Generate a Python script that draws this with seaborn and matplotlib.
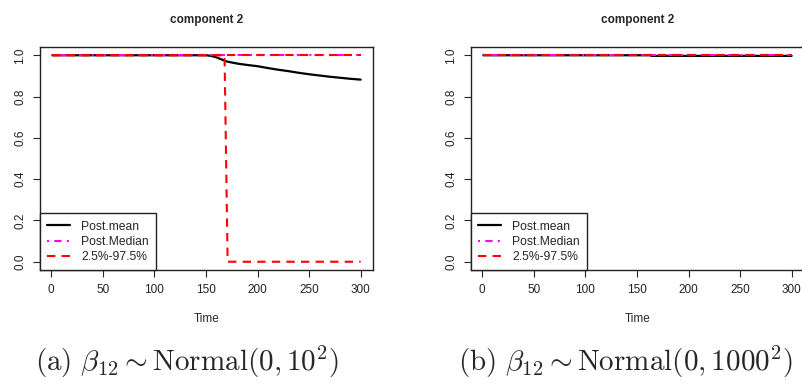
import matplotlib
matplotlib.use("Agg")
import matplotlib.pyplot as plt
import numpy as np
import pandas as pd
import seaborn as sns

sns.set_style("ticks")
plt.rcParams['font.family'] = ['Liberation Sans', 'DejaVu Sans']
plt.rcParams['mathtext.fontset'] = 'cm'

# panel (a): beta12 ~ Normal(0, 10^2)
time_a = [1, 150, 155, 160, 165, 170, 180, 190, 200, 210, 220, 230, 240, 250, 260, 270, 280, 290, 300]
mean_a = [1.0, 1.0, 0.997, 0.99, 0.98, 0.97, 0.96, 0.953, 0.947, 0.938, 0.93, 0.923, 0.915, 0.908, 0.902, 0.896, 0.891, 0.886, 0.882]
time_med_a = [1, 300]
median_a = [1.0, 1.0]
upper_a = [1.0, 1.0]
time_low_a = [1, 168, 171, 300]
lower_a = [1.0, 1.0, 0.0, 0.0]

# panel (b): beta12 ~ Normal(0, 1000^2)
time_b = [1, 163, 164, 300]
mean_b = [1.0, 1.0, 0.997, 0.997]
time_med_b = [1, 300]
median_b = [1.0, 1.0]
upper_b = [1.0, 1.0]
lower_b = [1.0, 1.0]

x_ticks = [0, 50, 100, 150, 200, 250, 300]
y_ticks = [0.0, 0.2, 0.4, 0.6, 0.8, 1.0]
legend_labels = ['Post.mean', 'Post.Median', '2.5%-97.5%']
captions = [r'$\mathrm{(a)}\ \beta_{12} \sim \mathrm{Normal}(0, 10^2)$',
            r'$\mathrm{(b)}\ \beta_{12} \sim \mathrm{Normal}(0, 1000^2)$']

fig = plt.figure(figsize=(8.02, 3.88), dpi=100)
ax_a = fig.add_axes([40 / 802, 1 - 270 / 388, 333 / 802, 223 / 388])
ax_b = fig.add_axes([471 / 802, 1 - 270 / 388, 333 / 802, 223 / 388])

dash = (0, (4, 3))
dashdot = (0, (1, 2.5, 3.5, 2.5))


def draw_panel(ax, t_mean, mean, t_med, med, upper, t_low, lower):
    sns.lineplot(x=t_mean, y=mean, ax=ax, color='black', lw=1.6, sort=False,
                 estimator=None, label=legend_labels[0])
    sns.lineplot(x=t_med, y=med, ax=ax, color='#FF00FF', lw=1.5, sort=False,
                 estimator=None, linestyle=dashdot, label=legend_labels[1])
    sns.lineplot(x=t_med, y=upper, ax=ax, color='#FF0000', lw=1.5, sort=False,
                 estimator=None, linestyle=dash, label=legend_labels[2])
    sns.lineplot(x=t_low, y=lower, ax=ax, color='#FF0000', lw=1.5, sort=False,
                 estimator=None, linestyle=dash)
    ax.set_xlim(1 - 0.04 * 299, 300 + 0.04 * 299)
    ax.set_ylim(-0.04, 1.04)
    ax.set_xticks(x_ticks)
    ax.set_xticklabels([str(v) for v in x_ticks], fontsize=8.5, color='#222222')
    ax.set_yticks(y_ticks)
    ax.set_yticklabels(['%.1f' % v for v in y_ticks], fontsize=8.5, rotation=90,
                       va='center', color='#222222')
    ax.tick_params(axis='x', length=5, width=0.8, pad=5)
    ax.tick_params(axis='y', length=5, width=0.8, pad=5)
    for s in ax.spines.values():
        s.set_visible(True)
        s.set_color('#222222')
        s.set_linewidth(1.0)
    ax.set_xlabel('Time', fontsize=8.5, labelpad=12)
    ax.set_ylabel('')
    ax.set_title('component 2', fontsize=8.5, fontweight='bold', pad=17)
    leg = ax.legend(loc='lower left', bbox_to_anchor=(0, 0), borderaxespad=0,
                    fancybox=False, frameon=True, edgecolor='#222222', framealpha=1,
                    fontsize=8.7, handlelength=1.9, handletextpad=0.9,
                    labelspacing=0.25, borderpad=0.6)
    leg.get_frame().set_linewidth(1.0)


draw_panel(ax_a, time_a, mean_a, time_med_a, median_a, upper_a, time_low_a, lower_a)
draw_panel(ax_b, time_b, mean_b, time_med_b, median_b, upper_b, time_med_b, lower_b)

fig.text(187 / 802, 1 - 362 / 388, captions[0], fontsize=21, ha='center', va='center')
fig.text(626 / 802, 1 - 362 / 388, captions[1], fontsize=21, ha='center', va='center')

fig.savefig('out.png', dpi=100)
